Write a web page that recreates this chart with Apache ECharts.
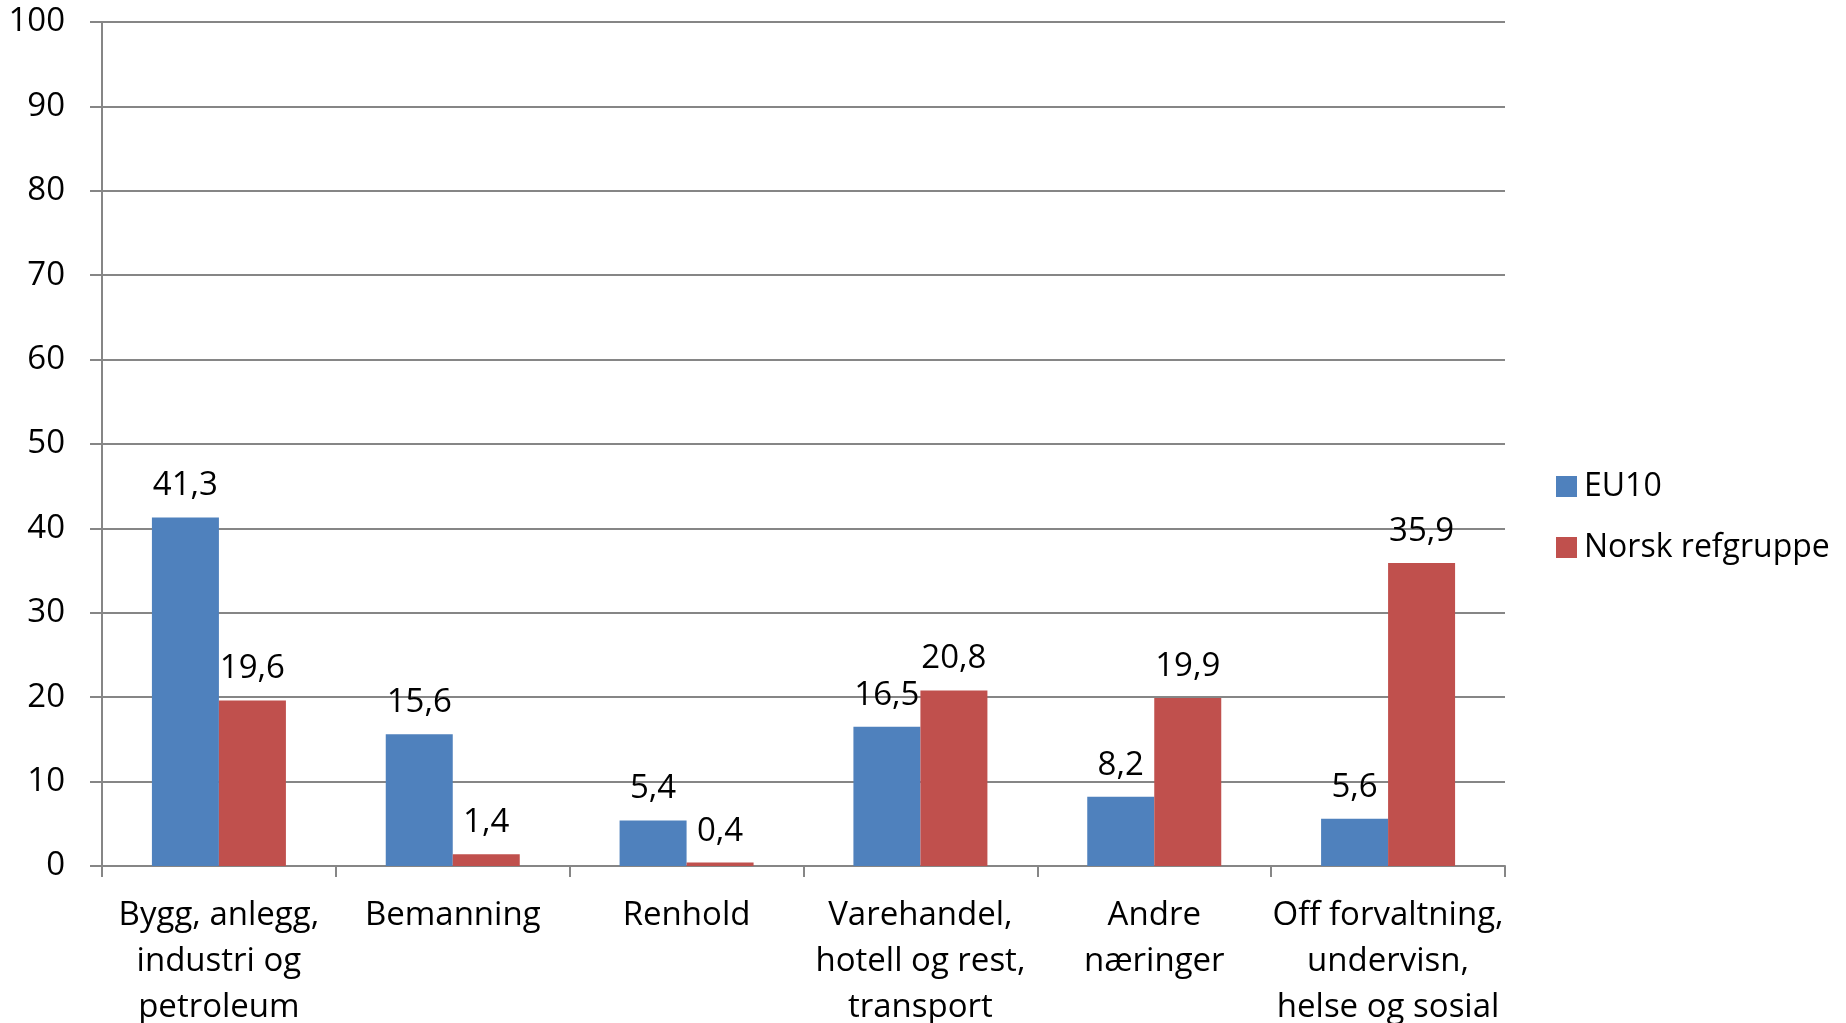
<!DOCTYPE html>
<html>
<head>
<meta charset="utf-8">
<script src="https://cdn.jsdelivr.net/npm/echarts@6/dist/echarts.min.js"></script>
<style>
  html, body { margin: 0; padding: 0; background: #fff; }
  #chart { width: 1846px; height: 1023px; }
</style>
</head>
<body>
<div id="chart"></div>
<script>
// data
const categories = [
  'Bygg, anlegg,\nindustri og\npetroleum',
  'Bemanning',
  'Renhold',
  'Varehandel,\nhotell og rest,\ntransport',
  'Andre\nnæringer',
  'Off forvaltning,\nundervisn,\nhelse og sosial'
]
const eu10 = [41.3, 15.6, 5.4, 16.5, 8.2, 5.6]
const norsk = [19.6, 1.4, 0.4, 20.8, 19.9, 35.9]
const seriesNames = ['EU10', 'Norsk refgruppe']

const FONT = '"Open Sans", Lato, sans-serif'
const FS = 33
const fmt = v => String(v).replace('.', ',')

const chart = echarts.init(document.getElementById('chart'))

const barLabel = {
  show: true,
  position: 'top',
  distance: 15,
  fontSize: FS,
  color: '#000',
  fontFamily: FONT,
  formatter: p => fmt(p.value)
}

const option = {
  animation: false,
  textStyle: { fontFamily: FONT, color: '#000' },
  legend: {
    orient: 'vertical',
    left: 1551,
    top: 465,
    itemWidth: 21,
    itemHeight: 21,
    itemGap: 28,
    icon: 'rect',
    textStyle: { fontSize: 32, lineHeight: 33, color: '#000', fontFamily: FONT, padding: [0, 0, 0, 2] },
    data: seriesNames
  },
  grid: {
    left: 102,
    right: 341,
    top: 22,
    bottom: 157,
    containLabel: false,
    outerBoundsMode: 'none'
  },
  xAxis: {
    type: 'category',
    data: categories,
    axisLine: { lineStyle: { color: '#868686', width: 2 } },
    axisTick: { show: true, length: 11, alignWithLabel: false, lineStyle: { color: '#868686', width: 2 } },
    axisLabel: {
      interval: 0,
      fontSize: FS,
      lineHeight: 46,
      margin: 27,
      color: '#000',
      fontFamily: FONT
    }
  },
  yAxis: {
    type: 'value',
    min: 0,
    max: 100,
    interval: 10,
    axisLine: { show: true, lineStyle: { color: '#868686', width: 2 } },
    axisTick: { show: true, length: 12, lineStyle: { color: '#868686', width: 2 } },
    splitLine: { lineStyle: { color: '#868686', width: 2 } },
    axisLabel: {
      fontSize: FS,
      margin: 37,
      color: '#000',
      fontFamily: FONT
    }
  },
  series: [
    {
      name: seriesNames[0],
      type: 'bar',
      data: eu10,
      barWidth: 67,
      barGap: '0%',
      itemStyle: { color: '#4F81BD' },
      label: barLabel
    },
    {
      name: seriesNames[1],
      type: 'bar',
      data: norsk,
      barWidth: 67,
      barGap: '0%',
      itemStyle: { color: '#C0504D' },
      label: barLabel
    }
  ]
}

chart.setOption(option)

window.addEventListener('resize', () => chart.resize())
</script>
</body>
</html>
